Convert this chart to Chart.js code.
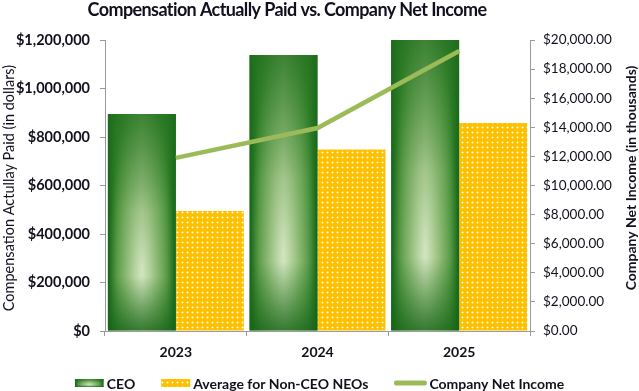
<!DOCTYPE html>
<html>
<head>
<meta charset="utf-8">
<script src="https://cdn.jsdelivr.net/npm/chart.js@4.4.1/dist/chart.umd.min.js"></script>
<style>
  html, body { margin: 0; padding: 0; background: #fff; }
  #wrap { position: relative; width: 639px; height: 391px; }
</style>
</head>
<body>
<div id="wrap"><canvas id="cap" width="639" height="391"></canvas></div>
<script>
// --- Data ---
const years = ['2023', '2024', '2025'];
const ceoPaid = [895000, 1138000, 1200000];
const neoPaid = [495000, 748000, 858000];
const netIncome = [11900, 13950, 19250];
const paidMax = 1200000, paidStep = 200000;
const incomeMax = 20000, incomeStep = 2000;

const FONT = 'Lato, "Noto Sans", sans-serif';
const INK = '#10101e';
const AXIS = '#9a9a9a';
const LINE_GREEN = '#9bbb59';
const GOLD = '#ffc000';

// gold fill with small white dots (Non-CEO bars)
const makeDots = () => {
    const c = document.createElement('canvas');
    c.width = 5; c.height = 5;
    const g = c.getContext('2d');
    g.fillStyle = GOLD; g.fillRect(0, 0, 5, 5);
    g.fillStyle = 'rgba(255,255,255,0.45)';
    g.fillRect(1, 2, 3, 1); g.fillRect(2, 1, 1, 3);
    g.fillStyle = 'rgba(255,255,255,0.95)';
    g.fillRect(2, 2, 1, 1);
    return g.createPattern(c, 'repeat');
};
const dots = makeDots();

// green "lit" shading used for the CEO bars and its legend key
const paintCeo = (ctx, left, top, w, h) => {
    ctx.save();
    ctx.beginPath(); ctx.rect(left, top, w, h); ctx.clip();
    let g = ctx.createLinearGradient(left, 0, left + w, 0);
    g.addColorStop(0, '#15651a');
    g.addColorStop(0.14, '#3f8c30');
    g.addColorStop(0.5, '#96bf7a');
    g.addColorStop(0.86, '#3f8c30');
    g.addColorStop(1, '#15651a');
    ctx.fillStyle = g; ctx.fillRect(left, top, w, h);

    ctx.save();
    ctx.translate(left + w / 2, top + h * 0.72);
    ctx.scale(w * 0.48, h * 0.85);
    g = ctx.createRadialGradient(0, 0, 0, 0, 0, 1);
    g.addColorStop(0, 'rgba(218,234,202,0.9)');
    g.addColorStop(0.5, 'rgba(190,215,160,0.45)');
    g.addColorStop(1, 'rgba(190,215,160,0)');
    ctx.fillStyle = g; ctx.fillRect(-1.3, -1.3, 2.6, 2.6);
    ctx.restore();

    g = ctx.createLinearGradient(0, top, 0, top + h);
    g.addColorStop(0, 'rgba(30,110,28,0.75)');
    g.addColorStop(0.45, 'rgba(30,110,28,0.12)');
    g.addColorStop(0.75, 'rgba(30,110,28,0)');
    g.addColorStop(1, 'rgba(22,100,24,0.8)');
    ctx.fillStyle = g; ctx.fillRect(left, top, w, h);
    ctx.restore();
};

const ceoShade = {
    id: 'ceoShade',
    afterDatasetDraw(chart, args) {
        if (args.index !== 0) return;
        const ctx = chart.ctx, a = chart.chartArea;
        ctx.save();
        ctx.beginPath(); ctx.rect(a.left, a.top, a.right - a.left, a.bottom - a.top); ctx.clip();
        args.meta.data.forEach(bar => {
            const { x, y, base, width } = bar.getProps(['x', 'y', 'base', 'width'], true);
            paintCeo(ctx, x - width / 2, Math.min(y, base), width, Math.abs(base - y));
        });
        ctx.restore();
    }
};

const upward = (ctx, text, x, y, font) => {
    ctx.save();
    ctx.translate(x, y); ctx.rotate(-Math.PI / 2);
    ctx.font = font; ctx.textAlign = 'center'; ctx.textBaseline = 'middle';
    ctx.fillText(text, 0, 0);
    ctx.restore();
};

// title, axis titles and legend
const extras = {
    id: 'extras',
    afterDraw(chart) {
        const ctx = chart.ctx;
        ctx.save();
        ctx.fillStyle = INK;
        ctx.font = 'bold 18px ' + FONT;
        ctx.letterSpacing = '-0.6px';
        ctx.textAlign = 'center'; ctx.textBaseline = 'alphabetic';
        ctx.fillText('Compensation Actually Paid vs. Company Net Income', 287, 16);
        ctx.letterSpacing = '0px';

        upward(ctx, 'Compensation Actullay Paid (in dollars)', 9, 188, '14.5px ' + FONT);
        upward(ctx, 'Company Net Income (in thousands)', 631, 178, 'bold 14px ' + FONT);

        // legend
        const items = [
            { text: 'CEO', key: 'ceo', kw: 29 },
            { text: 'Average for Non-CEO NEOs', key: 'neo', kw: 29 },
            { text: 'Company Net Income', key: 'line', kw: 32 }
        ];
        ctx.font = 'bold 14px ' + FONT;
        const gapKey = 3, gapItem = 26;
        const total = items.reduce((s, it) => s + it.kw + gapKey + ctx.measureText(it.text).width, 0) + gapItem * (items.length - 1);
        let x = 319.5 - total / 2;
        const cy = 383;
        items.forEach(it => {
            if (it.key === 'ceo') paintCeo(ctx, x, cy - 4, it.kw, 8);
            if (it.key === 'neo') { ctx.fillStyle = dots; ctx.fillRect(x, cy - 4, it.kw, 8); }
            if (it.key === 'line') {
                ctx.strokeStyle = LINE_GREEN; ctx.lineWidth = 5; ctx.lineCap = 'round';
                ctx.beginPath(); ctx.moveTo(x + 2, cy); ctx.lineTo(x + it.kw - 2, cy); ctx.stroke();
            }
            x += it.kw + gapKey;
            ctx.fillStyle = INK; ctx.textAlign = 'left'; ctx.textBaseline = 'middle';
            ctx.fillText(it.text, x, cy + 1);
            x += ctx.measureText(it.text).width + gapItem;
        });
        ctx.restore();
    }
};

const money = v => '$' + v.toLocaleString('en-US');
const money2 = v => '$' + v.toLocaleString('en-US', { minimumFractionDigits: 2, maximumFractionDigits: 2 });

new Chart(document.getElementById('cap'), {
    data: {
        labels: years,
        datasets: [
            {
                type: 'bar', label: 'CEO', data: ceoPaid, yAxisID: 'y',
                backgroundColor: '#2e7d25', order: 1,
                categoryPercentage: 0.96, barPercentage: 1
            },
            {
                type: 'bar', label: 'Average for Non-CEO NEOs', data: neoPaid, yAxisID: 'y',
                backgroundColor: dots, order: 2,
                categoryPercentage: 0.96, barPercentage: 1
            },
            {
                type: 'line', label: 'Company Net Income', data: netIncome, yAxisID: 'y1',
                borderColor: LINE_GREEN, borderWidth: 4.5, pointRadius: 0, tension: 0, order: 0
            }
        ]
    },
    options: {
        responsive: false,
        animation: false,
        layout: { padding: { top: 40, bottom: 25, left: 0, right: 0 } },
        plugins: { legend: { display: false }, tooltip: { enabled: false }, title: { display: false } },
        scales: {
            x: {
                offset: true,
                grid: { drawOnChartArea: false, tickLength: 5, color: AXIS, offset: true },
                border: { color: AXIS },
                ticks: { color: INK, padding: 8, font: { family: FONT, size: 14, weight: 'bold' } },
                afterFit: s => { s.height = 35; }
            },
            y: {
                position: 'left', min: 0, max: paidMax,
                grid: { drawOnChartArea: false, tickLength: 5, color: AXIS },
                border: { color: AXIS },
                ticks: { stepSize: paidStep, callback: money, color: INK, padding: 10, font: { family: FONT, size: 14.5, weight: 'bold' } },
                afterFit: s => { s.width = 105; }
            },
            y1: {
                position: 'right', min: 0, max: incomeMax,
                grid: { drawOnChartArea: false, tickLength: 5, color: AXIS },
                border: { color: AXIS },
                ticks: { stepSize: incomeStep, callback: money2, color: INK, padding: 8, font: { family: FONT, size: 13.5 } },
                afterFit: s => { s.width = 109; }
            }
        }
    },
    plugins: [ceoShade, extras]
});
</script>
</body>
</html>
